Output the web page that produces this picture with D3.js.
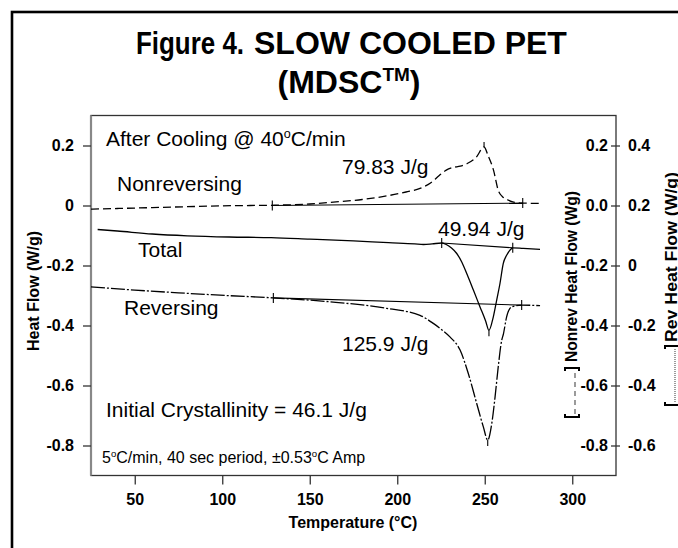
<!DOCTYPE html>
<html>
<head>
<meta charset="utf-8">
<script src="https://cdn.jsdelivr.net/npm/d3@7"></script>
<style>
body { margin: 0; background: #fff; }
svg text { font-family: "Liberation Sans", Arial, sans-serif; fill: #000; }
</style>
</head>
<body>
<svg id="chart" width="678" height="548"></svg>
<script>
// temperatures in degC, heat flow in W/g
var tempNonrev = [25, 40, 60, 80, 100, 130, 150, 165, 180, 195, 205, 213, 219, 224, 228, 232, 236, 240, 245, 249.6, 252, 255, 257.7, 260, 262.5, 266, 271.7, 281];
var nonrevFlow = [-0.012, -0.010, -0.007, -0.004, -0.001, 0.001, 0.005, 0.012, 0.020, 0.033, 0.045, 0.057, 0.075, 0.100, 0.118, 0.127, 0.131, 0.140, 0.160, 0.195, 0.165, 0.118, 0.051, 0.030, 0.021, 0.012, 0.008, 0.007];

var tempTotal = [28.8, 40, 60, 80, 104, 128, 150, 175, 195, 210, 215, 220, 225.4, 228, 231, 234, 237, 239.7, 243.5, 247.3, 250.5, 252.4, 254.9, 256.8, 258.7, 260.6, 262.5, 264.4, 266, 272, 281.6];
var totalFlow = [-0.080, -0.085, -0.095, -0.101, -0.105, -0.107, -0.112, -0.118, -0.124, -0.128, -0.130, -0.128, -0.125, -0.130, -0.142, -0.160, -0.190, -0.227, -0.282, -0.338, -0.385, -0.416, -0.371, -0.316, -0.260, -0.193, -0.166, -0.149, -0.141, -0.143, -0.146];

// reversing is read against the right hand Rev scale
var tempRev = [25, 50, 75, 98.7, 129.2, 161.6, 194, 213, 220.6, 225, 230.1, 235.9, 240.6, 245.4, 249.2, 251.7, 254, 255.9, 257.7, 259.7, 260.6, 262.5, 264.4, 266.3, 271.1, 281.6];
var revFlow = [-0.071, -0.082, -0.091, -0.099, -0.108, -0.121, -0.143, -0.166, -0.193, -0.212, -0.238, -0.282, -0.360, -0.460, -0.538, -0.582, -0.527, -0.438, -0.338, -0.249, -0.230, -0.171, -0.143, -0.136, -0.132, -0.134];

// integration limits [temp, flow]
var nonrevLimits = [[128.6, 0.0], [271.7, 0.008]];
var totalLimits = [[225.4, -0.125], [266, -0.141]];
var revLimits = [[129.2, -0.108], [271.1, -0.132]];

var xTicks = [50, 100, 150, 200, 250, 300];
var leftTicks = [0.2, 0, -0.2, -0.4, -0.6, -0.8];
var leftTickLabels = ["0.2", "0", "-0.2", "-0.4", "-0.6", "-0.8"];
var nonrevTicks = [0.2, 0, -0.2, -0.4, -0.6, -0.8];
var nonrevTickLabels = ["0.2", "0.0", "-0.2", "-0.4", "-0.6", "-0.8"];
var revTicks = [0.4, 0.2, 0, -0.2, -0.4, -0.6];
var revTickLabels = ["0.4", "0.2", "0", "-0.2", "-0.4", "-0.6"];

var svg = d3.select("#chart");
var plotL = 91, plotR = 616, plotT = 115.5, plotB = 475.5;

var x = d3.scaleLinear().domain([25, 325]).range([plotL, plotR]);
var y = d3.scaleLinear().domain([-0.9, 0.3]).range([plotB, plotT]);
var yNon = d3.scaleLinear().domain([-0.9, 0.3]).range([plotB, plotT]);
var yRev = d3.scaleLinear().domain([-0.7, 0.5]).range([plotB, plotT]);

// outer frame, runs off the right and bottom edges
svg.append("rect")
	.attr("x", 12).attr("y", 12)
	.attr("width", 720).attr("height", 600)
	.attr("fill", "none").attr("stroke", "#000").attr("stroke-width", 2.6);

// title, "Figure 4." is set narrow in the original
svg.append("text")
	.attr("transform", "translate(136,54) scale(0.81,1)")
	.attr("font-size", 32).attr("font-weight", "bold")
	.text("Figure 4.");
svg.append("text")
	.attr("x", 254).attr("y", 54)
	.attr("font-size", 32).attr("font-weight", "bold")
	.text("SLOW COOLED PET");
var t2 = svg.append("text")
	.attr("x", 349).attr("y", 93)
	.attr("text-anchor", "middle")
	.attr("font-size", 32).attr("font-weight", "bold");
t2.append("tspan").text("(MDSC");
t2.append("tspan").attr("font-size", 19).attr("dy", -12).text("TM");
t2.append("tspan").attr("dy", 12).text(")");

// plot box
svg.append("rect")
	.attr("x", plotL).attr("y", plotT)
	.attr("width", plotR - plotL).attr("height", plotB - plotT)
	.attr("fill", "none").attr("stroke", "#333").attr("stroke-width", 1.3);
svg.append("line")
	.attr("x1", plotL).attr("x2", plotL)
	.attr("y1", plotT).attr("y2", plotB)
	.attr("stroke", "#888").attr("stroke-width", 2.2);

function styleAxis(g) {
	g.select(".domain").remove();
	g.attr("font-family", null);
	g.selectAll("text")
		.attr("font-size", 16).attr("font-weight", "bold").attr("fill", "#000");
	g.selectAll(".tick line").attr("stroke", "#333").attr("stroke-width", 1.3);
}

svg.append("g")
	.attr("transform", "translate(0," + plotB + ")")
	.call(d3.axisBottom(x).tickValues(xTicks).tickSize(9).tickPadding(9))
	.call(styleAxis);

svg.append("g")
	.attr("transform", "translate(" + plotL + ",0)")
	.call(d3.axisLeft(y).tickValues(leftTicks)
		.tickFormat(function(d, i) { return leftTickLabels[i]; })
		.tickSize(8).tickPadding(9))
	.call(styleAxis);

svg.append("g")
	.attr("transform", "translate(" + plotR + ",0)")
	.call(d3.axisLeft(yNon).tickValues(nonrevTicks)
		.tickFormat(function(d, i) { return nonrevTickLabels[i]; })
		.tickSize(5).tickPadding(3))
	.call(styleAxis);

svg.append("g")
	.attr("transform", "translate(" + plotR + ",0)")
	.call(d3.axisRight(yRev).tickValues(revTicks)
		.tickFormat(function(d, i) { return revTickLabels[i]; })
		.tickSize(4).tickPadding(8))
	.call(styleAxis);

// axis titles
svg.append("text")
	.attr("x", 353).attr("y", 528)
	.attr("text-anchor", "middle")
	.attr("font-size", 16).attr("font-weight", "bold")
	.text("Temperature (°C)");
svg.append("text")
	.attr("transform", "translate(39,291) rotate(-90)")
	.attr("text-anchor", "middle")
	.attr("font-size", 16).attr("font-weight", "bold")
	.text("Heat Flow (W/g)");

function sideTitle(tx, textStart, len, b1, b2, label, dash) {
	var g = svg.append("g").attr("transform", "translate(" + tx + ",0) rotate(-90)");
	g.append("text")
		.attr("x", -textStart).attr("y", 0)
		.attr("font-size", 16).attr("font-weight", "bold")
		.attr("textLength", len).attr("lengthAdjust", "spacingAndGlyphs")
		.text(label);
	g.append("path")
		.attr("d", "M" + (-b1 + 3) + ",-12 H" + (-b1) + " V2 H" + (-b1 + 3) +
			" M" + (-b2 - 3) + ",-12 H" + (-b2) + " V2 H" + (-b2 - 3))
		.attr("fill", "none").attr("stroke", "#000").attr("stroke-width", 2);
	g.append("line")
		.attr("x1", -b1 + 3).attr("x2", -b2 - 3)
		.attr("y1", -2).attr("y2", -2)
		.attr("stroke", "#666").attr("stroke-width", 1.3)
		.attr("stroke-dasharray", dash);
}
sideTitle(577, 362, 171, 417, 368, "Nonrev Heat Flow (Wg)", "5,4");
sideTitle(677, 342, 170, 405, 346, "Rev Heat Flow (W/g)", "1,1");

// curves
function curve(temps, vals, scale, dash) {
	var pts = temps.map(function(t, i) { return [t, vals[i]]; });
	var line = d3.line()
		.x(function(d) { return x(d[0]); })
		.y(function(d) { return scale(d[1]); })
		.curve(d3.curveMonotoneX);
	svg.append("path")
		.datum(pts)
		.attr("d", line)
		.attr("fill", "none").attr("stroke", "#000").attr("stroke-width", 1.3)
		.attr("stroke-dasharray", dash);
}
curve(tempNonrev, nonrevFlow, yNon, "8,4");
curve(tempTotal, totalFlow, y, null);
curve(tempRev, revFlow, yRev, "14,2,2,2");

// integration baselines with limit ticks
function limits(lim, scale) {
	svg.append("line")
		.attr("x1", x(lim[0][0])).attr("y1", scale(lim[0][1]))
		.attr("x2", x(lim[1][0])).attr("y2", scale(lim[1][1]))
		.attr("stroke", "#000").attr("stroke-width", 1.1);
	svg.selectAll(null)
		.data(lim).enter()
		.append("line")
		.attr("x1", function(d) { return x(d[0]); })
		.attr("x2", function(d) { return x(d[0]); })
		.attr("y1", function(d) { return scale(d[1]) - 5; })
		.attr("y2", function(d) { return scale(d[1]) + 5; })
		.attr("stroke", "#000").attr("stroke-width", 1.1);
}
limits(nonrevLimits, yNon);
limits(totalLimits, y);
limits(revLimits, yRev);

// peak markers
function peak(temps, vals, scale, up) {
	var i = up ? d3.maxIndex(vals) : d3.minIndex(vals);
	var py = scale(vals[i]);
	svg.append("line")
		.attr("x1", x(temps[i])).attr("x2", x(temps[i]))
		.attr("y1", py).attr("y2", up ? py - 5 : py + 6)
		.attr("stroke", "#000").attr("stroke-width", 1.1);
}
peak(tempNonrev, nonrevFlow, yNon, true);
peak(tempTotal, totalFlow, y, false);
peak(tempRev, revFlow, yRev, false);

// annotations; "deg" makes a small raised o
function note(px, py, size, parts) {
	var t = svg.append("text").attr("x", px).attr("y", py).attr("font-size", size);
	var shift = 0;
	parts.forEach(function(p) {
		if (p === "deg") {
			t.append("tspan").attr("font-size", size * 0.6).attr("dy", -size * 0.38).text("o");
			shift = size * 0.38;
		} else {
			t.append("tspan").attr("dy", shift).text(p);
			shift = 0;
		}
	});
}
note(106, 146, 21, ["After Cooling @ 40", "deg", "C/min"]);
note(117, 191, 21, ["Nonreversing"]);
note(138, 257, 21, ["Total"]);
note(124, 315, 21, ["Reversing"]);
note(342, 174, 21, ["79.83 J/g"]);
note(438, 236, 21, ["49.94 J/g"]);
note(342, 351, 21, ["125.9 J/g"]);
note(106, 417, 21, ["Initial Crystallinity = 46.1 J/g"]);
note(102, 463, 16, ["5", "deg", "C/min, 40 sec period, ±0.53", "deg", "C Amp"]);
</script>
</body>
</html>
